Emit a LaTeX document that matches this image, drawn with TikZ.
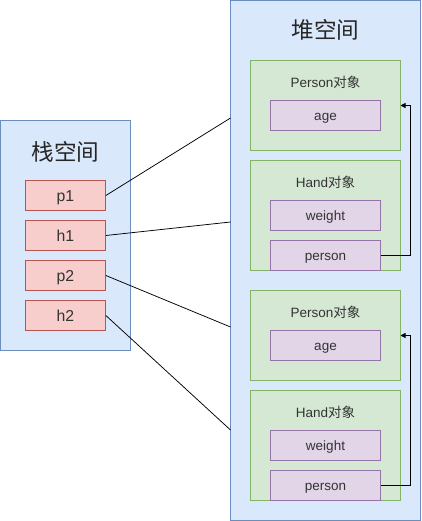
\documentclass[tikz,border=0pt]{standalone}
\usepackage{fontspec}
\setmainfont{Liberation Sans}
\newfontfamily\cjk{Noto Sans CJK SC}
\usetikzlibrary{arrows.meta}
\definecolor{bluefill}{HTML}{DAE8FC}
\definecolor{bluedraw}{HTML}{6C8EBF}
\definecolor{greenfill}{HTML}{D5E8D4}
\definecolor{greendraw}{HTML}{82B366}
\definecolor{purplefill}{HTML}{E1D5E7}
\definecolor{purpledraw}{HTML}{9673A6}
\definecolor{redfill}{HTML}{F8CECC}
\definecolor{reddraw}{HTML}{B85450}
\definecolor{txt}{HTML}{333333}
\tikzset{
  area/.style={draw=bluedraw, fill=bluefill, line width=0.75pt},
  objbox/.style={draw=greendraw, fill=greenfill, line width=0.75pt},
  field/.style={draw=purpledraw, fill=purplefill, line width=0.75pt, minimum width=110pt, minimum height=30pt, inner sep=0pt, text height=11pt, text depth=1pt, font=\fontsize{13.5}{16}\selectfont, text=txt},
  var/.style={draw=reddraw, fill=redfill, line width=0.75pt, minimum width=80pt, minimum height=30pt, inner sep=0pt, text height=13pt, text depth=1pt, font=\fontsize{15.8}{18}\selectfont, text=txt},
  title/.style={font=\fontsize{22.6}{26}\selectfont\cjk, text=black!85},
  objtitle/.style={font=\fontsize{13.5}{16}\selectfont, text=txt},
  link/.style={line width=0.75pt, black},
  ref/.style={line width=0.75pt, black, -{Triangle[width=5pt,length=5pt]}}
}
\begin{document}
\begin{tikzpicture}[x=1pt,y=-1pt]
\useasboundingbox (0,0) rectangle (421,521);
% heap area
\draw[area] (230.5,0.5) rectangle (420.5,520.5);
\node[title] (heapt) at (325.5,30) {堆空间};
% stack area
\draw[area] (0.5,120.5) rectangle (130.5,350.5);
\node[title] (stackt) at (65.5,152) {栈空间};
\coordinate (hp1) at (230.5,118);
\coordinate (hh1) at (230.5,222);
\coordinate (hp2) at (230.5,327);
\coordinate (hh2) at (230.5,430);
% objects
\draw[objbox] (250.5,60.5) rectangle (400.5,150.5);
\node[objtitle] (pt1) at (325.5,82.5) {Person{\cjk 对象}};
\node[field] (age1) at (325.5,115.5) {age};
\draw[objbox] (250.5,160.5) rectangle (400.5,270.5);
\node[objtitle] (ht1) at (325.5,182.5) {Hand{\cjk 对象}};
\node[field] (w1) at (325.5,215.5) {weight};
\node[field] (pr1) at (325.5,255.5) {person};
\draw[objbox] (250.5,290.5) rectangle (400.5,380.5);
\node[objtitle] (pt2) at (325.5,312.5) {Person{\cjk 对象}};
\node[field] (age2) at (325.5,345.5) {age};
\draw[objbox] (250.5,390.5) rectangle (400.5,500.5);
\node[objtitle] (ht2) at (325.5,412.5) {Hand{\cjk 对象}};
\node[field] (w2) at (325.5,445.5) {weight};
\node[field] (pr2) at (325.5,485.5) {person};
% stack vars
\node[var] (p1) at (65.5,195.5) {p1};
\node[var] (h1) at (65.5,235.5) {h1};
\node[var] (p2) at (65.5,275.5) {p2};
\node[var] (h2) at (65.5,315.5) {h2};
% links
\draw[link] (p1.east) -- (hp1);
\draw[link] (h1.east) -- (hh1);
\draw[link] (p2.east) -- (hp2);
\draw[link] (h2.east) -- (hh2);
\coordinate (a1) at (400.5,105.5);
\coordinate (a2) at (400.5,335.5);
\draw[ref] (pr1.east) -- (410.5,255.5) -- (410.5,105.5) -- (a1);
\draw[ref] (pr2.east) -- (410.5,485.5) -- (410.5,335.5) -- (a2);
\end{tikzpicture}
\end{document}
